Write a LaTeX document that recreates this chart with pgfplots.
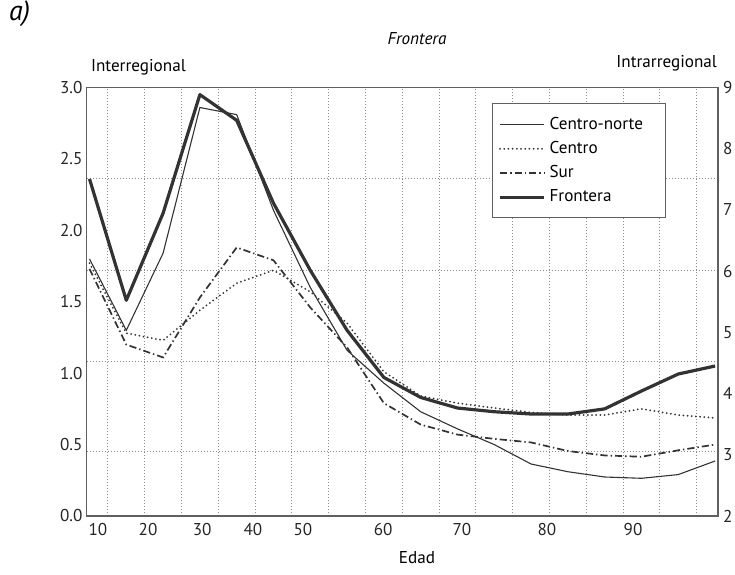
\documentclass[border=0pt]{standalone}
\usepackage{fontspec}
\setmainfont{PT Sans}
\usepackage{pgfplots}
\usepackage{pgfplotstable}
\pgfplotsset{compat=1.18}

\definecolor{ink}{HTML}{333333}
\definecolor{framec}{HTML}{606060}
\definecolor{gridc}{HTML}{8C8C8C}

% age groups plotted at 0..17
\pgfplotstableread{
i   cn     ce     sur    fr
0   1.80   1.77   1.73   2.36
1   1.30   1.28   1.20   1.51
2   1.84   1.23   1.11   2.12
3   2.86   1.44   1.53   2.95
4   2.81   1.63   1.88   2.77
5   2.14   1.72   1.79   2.19
6   1.60   1.57   1.46   1.72
7   1.16   1.35   1.18   1.30
8   0.93   1.01   0.79   0.97
9   0.73   0.84   0.64   0.83
10  0.61   0.79   0.57   0.756
11  0.50   0.756  0.54   0.73
12  0.364  0.725  0.515  0.714
13  0.31   0.707  0.455  0.714
14  0.273  0.707  0.424  0.75
15  0.264  0.75   0.415  0.875
16  0.29   0.707  0.46   0.994
17  0.385  0.686  0.50   1.05
}\datatab

\newcommand{\tickfont}{\fontsize{8.6}{10.3}\selectfont}

\begin{document}
\begin{tikzpicture}
\path[use as bounding box] (0,0) rectangle (367.5bp,287.5bp);

\begin{axis}[
    at={(43.25bp,29.5bp)}, anchor=south west,
    width=315.75bp, height=214.25bp, scale only axis,
    xmin=-0.0815, xmax=17.08, ymin=0, ymax=3,
    xtick={0.23,1.59,3.06,4.44,5.80,7.98,10.12,12.43,14.77},
    xticklabels={10,20,30,40,50,60,70,80,90},
    ytick={0,0.5,1,1.5,2,2.5,3},
    yticklabel style={/pgf/number format/fixed, /pgf/number format/fixed zerofill,
        /pgf/number format/precision=1, xshift=1.5bp},
    /pgf/number format/assume math mode=true,
    major tick length=0pt, minor tick length=0pt,
    minor xtick={0.5,1.5,...,16.5},
    minor ytick={0.45,1.085,1.72,2.36},
    xminorgrids, yminorgrids,
    minor grid style={gridc, line width=0.45bp, dash pattern=on 0.6bp off 0.9bp},
    axis line style={framec, line width=0.8bp},
    tick label style={font=\tickfont, text=black!85},
    legend style={at={(0.642,0.963)}, anchor=north west, draw=framec,
        line width=0.5bp, font=\tickfont, inner xsep=3bp, inner ysep=4.5bp,
        row sep=0.6bp},
    legend cell align=left,
    legend image code/.code={\draw[#1] (0bp,0bp) -- (22bp,0bp);},
]
\addplot[ink, line width=0.55bp] table[x=i, y=cn] {\datatab};
\addlegendentry{\makebox[53bp][l]{Centro-norte}}
\addplot[ink, line width=1bp, line cap=round, dash pattern=on 0bp off 2.1bp] table[x=i, y=ce] {\datatab};
\addlegendentry{Centro}
\addplot[ink, line width=0.85bp, dash pattern=on 3.6bp off 1.5bp on 0.7bp off 1.5bp] table[x=i, y=sur] {\datatab};
\addlegendentry{Sur}
\addplot[ink, line width=1.6bp, line join=round] table[x=i, y=fr] {\datatab};
\addlegendentry{Frontera}
\end{axis}

\begin{axis}[
    at={(43.25bp,29.5bp)}, anchor=south west,
    width=315.75bp, height=214.25bp, scale only axis,
    xmin=-0.0815, xmax=17.08, ymin=2, ymax=9,
    ytick={2,3,4,5,6,7,8,9},
    /pgf/number format/assume math mode=true,
    axis x line=none, axis y line*=right,
    major tick length=0pt,
    axis line style={framec, line width=0.8bp},
    tick label style={font=\tickfont, text=black!85},
    yticklabel style={xshift=-1bp},
]
\addplot[draw=none, forget plot] coordinates {(0,5)};
\end{axis}

\node[anchor=west, font=\itshape\fontsize{14}{16}\selectfont] at (1bp,280.5bp) {a)};
\node[font=\itshape\tickfont] at (208.5bp,268bp) {Frontera};
\node[anchor=west, font=\tickfont] at (42bp,254bp) {Interregional};
\node[anchor=east, font=\tickfont] at (362bp,256bp) {Intrarregional};
\node[font=\tickfont] at (208.5bp,8.5bp) {Edad};
\end{tikzpicture}
\end{document}
